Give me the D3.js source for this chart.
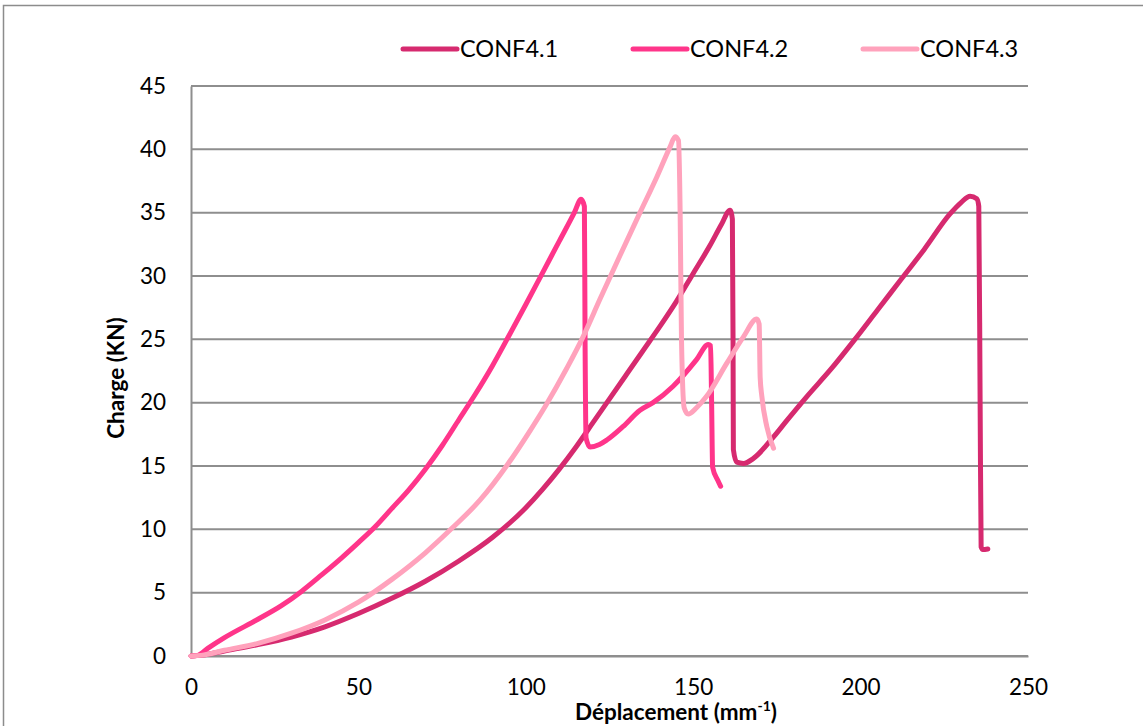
<!DOCTYPE html>
<html>
<head>
<meta charset="utf-8">
<script src="https://cdn.jsdelivr.net/npm/d3@7"></script>
<style>
  html, body { margin: 0; padding: 0; background: #fff; }
  svg { display: block; font-family: Lato, "Open Sans", sans-serif; }
</style>
</head>
<body>
<svg id="chart" width="1143" height="726"></svg>
<script>
// Load–displacement curves for the three CONF4 specimens
const seriesNames = ["CONF4.1", "CONF4.2", "CONF4.3"];
const seriesColors = ["#D62A6F", "#FF358A", "#FFA2BC"];

const conf41 = [
  [0,0],[3,0.05],[10,0.4],[20,0.9],[30,1.5],[40,2.3],[50,3.35],[60,4.55],[70,5.9],
  [80,7.5],[90,9.35],[100,11.7],[105,13.15],[110,14.75],[115,16.5],[120,18.4],[125,20.3],
  [130,22.2],[135,24.1],[140,26.0],[145,28.0],[150,30.2],[155,32.4],[158.5,34.1],[161,35.2],
  [161.7,34.5],[161.9,25],[162,16.3],[163,15.3],[165,15.2],[168,15.6],[174,17.3],[178,18.6],
  [184,20.5],[191,22.6],[198,24.9],[205,27.3],[212,29.7],[219,32.1],[226.7,34.9],
  [230,35.8],[232.7,36.3],[234.7,36.1],[235.3,35.5],[235.7,20],[236,8.6],[236.5,8.4],[238,8.45]
];
const conf42 = [
  [0,0],[2,0.05],[5,0.6],[10,1.45],[20,2.9],[27,3.97],[33,5.1],[39,6.4],[45,7.75],
  [50,8.95],[55,10.2],[60,11.65],[65,13.1],[70,14.75],[75,16.6],[80,18.65],[85,20.7],
  [90,22.9],[95,25.3],[100,27.75],[105,30.25],[110,32.75],[114.5,35.0],[116.5,36.05],
  [117.5,35.5],[117.7,25],[118,17.2],[119.2,16.5],[122,16.7],[124.2,17.05],
  [129,18.1],[134.1,19.4],[138,20.0],[144,21.3],[151,23.4],[154.5,24.6],[155.2,24.5],
  [155.5,20],[155.8,14.9],[157.3,13.9],[158.2,13.4]
];
const conf43 = [
  [0,0],[3,0.05],[10,0.45],[20,1.0],[30,1.8],[40,2.85],[50,4.25],[60,6.05],[70,8.15],
  [78,10.1],[86.3,12.3],[94.5,15.1],[101.3,17.8],[106,19.8],[112.2,22.7],[117.1,25.2],
  [122.2,28.2],[128.1,31.6],[134.1,35.0],[139.1,37.8],[143.1,40.2],[144.6,41.0],[145.6,40.7],
  [146.1,35],[146.5,25],[147.3,19.6],[148.5,19.1],[151,19.6],[154,20.5],[160,23.1],
  [165,25.2],[169,26.6],[169.7,26.2],[170,22],[170.5,20.5],[172,18.1],[174,16.4]
];
const seriesData = [conf41, conf42, conf43];

const xTicks = [0, 50, 100, 150, 200, 250];
const yTicks = [0, 5, 10, 15, 20, 25, 30, 35, 40, 45];

const svg = d3.select("#chart");
const W = 1143, H = 726;
const plot = { left: 191, right: 1028, top: 86, bottom: 656 };

// Chart frame
svg.append("path")
  .attr("d", `M3.5,${H} V5.5 H${W}`)
  .attr("fill", "none")
  .attr("stroke", "#8c8c8c")
  .attr("stroke-width", 1.5);

const x = d3.scaleLinear().domain([0, 250]).range([plot.left, plot.right]);
const y = d3.scaleLinear().domain([0, 45]).range([plot.bottom, plot.top]);

// Horizontal gridlines
svg.append("g")
  .selectAll("line")
  .data(yTicks)
  .join("line")
  .attr("x1", plot.left).attr("x2", plot.right)
  .attr("y1", d => y(d)).attr("y2", d => y(d))
  .attr("stroke", "#8e8e8e")
  .attr("stroke-width", 2);

// Y axis
const yAxis = svg.append("g")
  .attr("transform", `translate(${plot.left},0)`)
  .call(d3.axisLeft(y).tickValues(yTicks).tickSize(0).tickPadding(25));
yAxis.select(".domain").attr("stroke", "#8e8e8e").attr("stroke-width", 2);
yAxis.selectAll("text")
  .attr("font-family", "Lato, sans-serif")
  .attr("font-size", 22.5)
  .attr("fill", "#000");

// X axis
const xAxis = svg.append("g")
  .attr("transform", `translate(0,${plot.bottom})`)
  .call(d3.axisBottom(x).tickValues(xTicks).tickSize(0).tickPadding(23));
xAxis.select(".domain").attr("stroke", "#8e8e8e").attr("stroke-width", 2);
xAxis.selectAll("text")
  .attr("font-family", "Lato, sans-serif")
  .attr("font-size", 22.5)
  .attr("fill", "#000");

// Axis titles
svg.append("text")
  .attr("transform", `translate(124,${(plot.top + plot.bottom) / 2 + 7}) rotate(-90)`)
  .attr("text-anchor", "middle")
  .attr("font-size", 22.5)
  .attr("font-weight", "bold")
  .attr("fill", "#000")
  .text("Charge (KN)");

const xTitle = svg.append("text")
  .attr("x", 676)
  .attr("y", 720)
  .attr("text-anchor", "middle")
  .attr("font-size", 22.5)
  .attr("font-weight", "bold")
  .attr("fill", "#000");
xTitle.append("tspan").text("Déplacement (mm");
xTitle.append("tspan").attr("font-size", 14).attr("dy", -9).text("-1");
xTitle.append("tspan").attr("dy", 9).text(")");

// Series lines, smoothed like the spreadsheet plot
const line = d3.line()
  .x(d => x(d[0]))
  .y(d => y(d[1]))
  .curve(d3.curveMonotoneX);
svg.append("g")
  .selectAll("path")
  .data(seriesData)
  .join("path")
  .attr("d", line)
  .attr("fill", "none")
  .attr("stroke", (d, i) => seriesColors[i])
  .attr("stroke-width", 5)
  .attr("stroke-linejoin", "round")
  .attr("stroke-linecap", "round");

// Legend
const legendX = [403, 633, 863];
const legend = svg.append("g")
  .selectAll("g")
  .data(seriesNames)
  .join("g")
  .attr("transform", (d, i) => `translate(${legendX[i]},49)`);
legend.append("line")
  .attr("x1", 0).attr("x2", 54)
  .attr("stroke", (d, i) => seriesColors[i])
  .attr("stroke-width", 5)
  .attr("stroke-linecap", "round");
legend.append("text")
  .attr("x", 57)
  .attr("dy", "0.35em")
  .attr("font-size", 23.5)
  .attr("fill", "#000")
  .text(d => d);
</script>
</body>
</html>
